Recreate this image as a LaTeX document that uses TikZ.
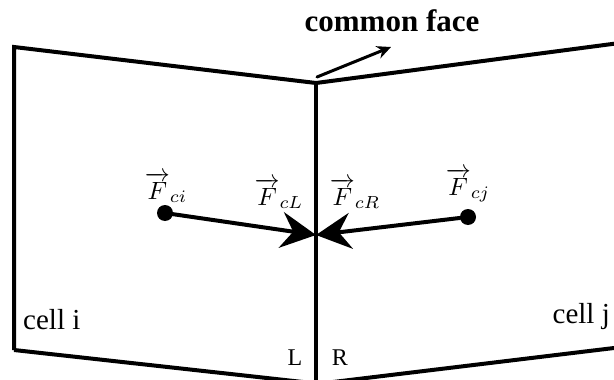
\documentclass[tikz,border=0pt]{standalone}
\usepackage{amsmath}
\usepackage{fontspec}
\setmainfont{Liberation Serif}
\usetikzlibrary{arrows.meta}

\begin{document}
\begin{tikzpicture}[x=1pt,y=-1pt,line cap=round,
  cell/.style={line width=4pt,line cap=butt,line join=miter},
  force/.style={line width=4pt,-{Stealth[length=35pt,width=36pt,inset=12pt]}},
  dot/.style={circle,fill,inner sep=0pt,minimum size=16pt},
  vec/.style={scale=2.5,anchor=base,inner sep=0pt},
  txt/.style={font=\fontsize{29}{34}\selectfont,inner sep=0pt}]
\useasboundingbox (0,0) rectangle (614,380);
\clip (0,0) rectangle (614,380);
\coordinate (top) at (316,83);
\coordinate (bot) at (316,390);
\coordinate (fc) at (316,235);
\draw[cell] (14,350) -- (14,47) -- (top) -- (650,39);
\draw[cell] (14,350) -- (330,385);
\draw[cell] (614,348) -- (300,386);
\draw[cell] (top) -- (bot);
\node[dot] (ci) at (165,213) {};
\node[dot] (cj) at (468,217) {};
\draw[force] (ci) -- (fc);
\draw[force] (cj) -- (fc);
\node[vec] (Fci) at (166,199) {$\overrightarrow{F}_{ci}$};
\node[vec] (Fcj) at (468,195) {$\overrightarrow{F}_{cj}$};
\node[vec] (FcL) at (279,205) {$\overrightarrow{F}_{cL}$};
\node[vec] (FcR) at (355,205) {$\overrightarrow{F}_{cR}$};
\node[txt,anchor=base west] (celli) at (23,329) {cell i};
\node[txt,anchor=base east] (cellj) at (610,323) {cell j};
\node[txt,anchor=base,font=\fontsize{24}{28}\selectfont] (L) at (295,365) {L};
\node[txt,anchor=base,font=\fontsize{24}{28}\selectfont] (R) at (340,365) {R};
\node[anchor=base,inner sep=0pt,font=\fontsize{31}{36}\selectfont\bfseries] (face) at (392,31) {common face};
\coordinate (ftail) at (317,77);
\coordinate (fhead) at (391,47);
\draw[line width=3pt,-{Stealth[length=14pt,width=13pt]}] (ftail) -- (fhead);
\end{tikzpicture}
\end{document}
